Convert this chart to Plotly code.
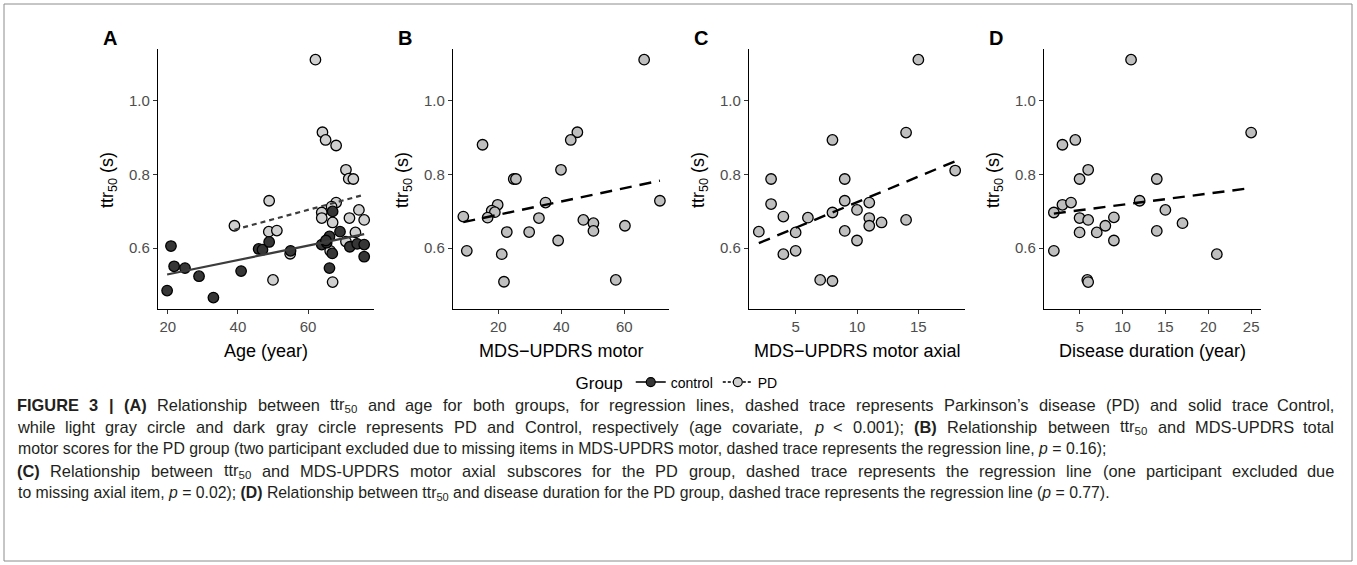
import re
import plotly.graph_objects as go

# ---------------- data ----------------
# Panel A: age vs ttr50, two groups
a_pd_age = [62.1, 64.1, 65.0, 68.0, 70.8, 71.6, 72.9, 48.9, 39.0, 48.8, 51.1, 68.0, 66.7,
            63.9, 63.9, 67.0, 71.8, 70.8, 54.9, 66.3, 50.0, 67.0, 74.5, 76.0, 73.5]
a_pd_ttr = [1.112, 0.915, 0.894, 0.879, 0.813, 0.789, 0.788, 0.729, 0.661, 0.645, 0.648, 0.724, 0.713,
            0.697, 0.682, 0.670, 0.682, 0.618, 0.585, 0.593, 0.514, 0.508, 0.704, 0.677, 0.643]
a_ctrl_age = [20.9, 21.8, 24.9, 28.9, 19.8, 33.0, 40.9, 45.9, 47.0, 48.9, 55.0, 63.9, 65.3, 66.9,
              66.1, 67.0, 66.1, 69.1, 71.9, 65.1, 74.0, 76.0, 76.0]
a_ctrl_ttr = [0.606, 0.551, 0.546, 0.524, 0.485, 0.466, 0.538, 0.598, 0.596, 0.617, 0.593, 0.610, 0.615, 0.586,
              0.546, 0.700, 0.632, 0.645, 0.604, 0.621, 0.612, 0.610, 0.577]

# Panel B: MDS-UPDRS motor
b_motor = [66.3, 15.0, 45.1, 43.0, 39.9, 24.9, 25.6, 8.9, 10.0, 19.8, 17.9, 18.9, 16.6,
           22.7, 21.1, 21.8, 29.8, 32.9, 35.0, 39.0, 47.0, 50.2, 50.2, 60.2, 57.3, 71.3]
b_ttr = [1.112, 0.881, 0.915, 0.894, 0.813, 0.788, 0.788, 0.686, 0.593, 0.718, 0.702, 0.698, 0.683,
         0.644, 0.584, 0.509, 0.644, 0.682, 0.724, 0.621, 0.677, 0.668, 0.647, 0.661, 0.514, 0.729]

# Panel C: MDS-UPDRS motor axial
c_axial = [15, 14, 18, 14, 8, 9, 9, 8, 9, 10, 10, 11, 11, 11, 12, 3, 3, 2, 4, 4, 5, 5, 6, 7, 8]
c_ttr = [1.112, 0.914, 0.811, 0.677, 0.894, 0.788, 0.729, 0.697, 0.647, 0.704, 0.621, 0.724, 0.682,
         0.661, 0.670, 0.788, 0.720, 0.645, 0.686, 0.584, 0.643, 0.593, 0.683, 0.514, 0.511]

# Panel D: disease duration
d_dur = [11, 25, 3, 4.5, 6, 5, 2, 3, 4, 5, 6, 5, 7, 8, 9, 9, 12, 14, 14, 15, 17, 21, 2, 5.9, 6.0]
d_ttr = [1.112, 0.914, 0.881, 0.894, 0.813, 0.788, 0.697, 0.718, 0.724, 0.682, 0.677, 0.643, 0.643,
         0.661, 0.684, 0.621, 0.729, 0.788, 0.647, 0.704, 0.668, 0.584, 0.593, 0.514, 0.508]

# regression lines: (intercept, slope)
fit_a_ctrl = (0.490, 0.00195)
fit_a_pd = (0.550, 0.00257)
fit_b = (0.655, 0.0018)
fit_c = (0.586, 0.0139)
fit_d = (0.688, 0.00302)

panel_letters = ["A", "B", "C", "D"]
x_titles = ["Age (year)", "MDS\u2212UPDRS motor", "MDS\u2212UPDRS motor axial", "Disease duration (year)"]
x_tickvals = [[20, 40, 60], [20, 40, 60], [5, 10, 15], [5, 10, 15, 20, 25]]
x_ranges = [[17.2, 78.8], [5.62, 74.19], [1.2, 18.8], [0.85, 26.15]]
y_tickvals = [0.6, 0.8, 1.0]
y_range = [0.435, 1.141]

# caption lines; True = justified line (full width), False = last line of a block
caption_lines = [
    ("<b>FIGURE</b> <b>3</b> <b>|</b> <b>(A)</b> Relationship between ttr<sub>50</sub> and age for both groups, for regression lines, dashed trace represents Parkinson\u2019s disease (PD) and solid trace Control,", True),
    ("while light gray circle and dark gray circle represents PD and Control, respectively (age covariate, <i>p</i> &lt; 0.001); <b>(B)</b> Relationship between ttr<sub>50</sub> and MDS-UPDRS total", True),
    ("motor scores for the PD group (two participant excluded due to missing items in MDS-UPDRS motor, dashed trace represents the regression line, <i>p</i> = 0.16);", False),
    ("<b>(C)</b> Relationship between ttr<sub>50</sub> and MDS-UPDRS motor axial subscores for the PD group, dashed trace represents the regression line (one participant excluded due", True),
    ("to missing axial item, <i>p</i> = 0.02); <b>(D)</b> Relationship between ttr<sub>50</sub> and disease duration for the PD group, dashed trace represents the regression line (<i>p</i> = 0.77).", False),
]

# ---------------- layout geometry (pixels) ----------------
W, H = 1357, 565
def px(x):
    return x / W
def py(y):
    return 1 - y / H

x_px = [(158, 374), (453, 669), (749, 965), (1044, 1261)]
y_px = (49, 309)

FONT = "Liberation Sans, Arial, Helvetica, sans-serif"
DARK = "#363636"
LIGHT_A = "#d0d0d0"
LIGHT = "#bfbfbf"
CAP_SIZE = 15.8       # ragged (last) lines
CAP_SIZE_J = 16.4     # justified lines (typesetter glyph scaling)
CAP_LEFT, CAP_RIGHT = 16, 1335

# Helvetica/Arial advance widths (1/1000 em), used only to justify caption words
REG = {' ': 278, '(': 333, ')': 333, ',': 278, '-': 333, '.': 278, ';': 278, '<': 584, '=': 584,
       '|': 260, '\u2019': 222, ':': 278,
       'A': 667, 'B': 667, 'C': 722, 'D': 722, 'E': 667, 'F': 611, 'G': 778, 'H': 722, 'I': 278,
       'J': 500, 'K': 667, 'L': 556, 'M': 833, 'N': 722, 'O': 778, 'P': 667, 'Q': 778, 'R': 722,
       'S': 667, 'T': 611, 'U': 722, 'V': 667, 'W': 944, 'X': 667, 'Y': 667, 'Z': 611,
       'a': 556, 'b': 556, 'c': 500, 'd': 556, 'e': 556, 'f': 278, 'g': 556, 'h': 556, 'i': 222,
       'j': 222, 'k': 500, 'l': 222, 'm': 833, 'n': 556, 'o': 556, 'p': 556, 'q': 556, 'r': 333,
       's': 500, 't': 278, 'u': 556, 'v': 500, 'w': 722, 'x': 500, 'y': 500, 'z': 500}
BOLD = {'(': 333, ')': 333, '|': 280, 'A': 722, 'B': 722, 'C': 722, 'D': 722, 'E': 667, 'F': 611,
        'G': 778, 'I': 278, 'R': 722, 'U': 722}

def tok_width(tok, size):
    bold = "<b>" in tok
    w = 0.0
    in_sub = False
    for part in re.split(r"(<[^>]+>)", tok):
        if part.startswith("<"):
            if part == "<sub>":
                in_sub = True
            elif part == "</sub>":
                in_sub = False
            continue
        part = part.replace("&lt;", "<")
        for ch in part:
            cw = BOLD.get(ch, REG.get(ch, 556)) if bold else REG.get(ch, 556)
            w += cw / 1000.0 * size * (0.7 if in_sub else 1.0)
    return w

fig = go.Figure()

def ax(i):
    return ("x" if i == 0 else f"x{i+1}"), ("y" if i == 0 else f"y{i+1}")

def line_xy(xs, fit):
    lo, hi = min(xs), max(xs)
    return [lo, hi], [fit[0] + fit[1] * lo, fit[0] + fit[1] * hi]

mk_pd_a = dict(size=10.5, color=LIGHT_A, line=dict(color="black", width=1.3))
mk_pd = dict(size=10.5, color=LIGHT, line=dict(color="black", width=1.3))
mk_ctrl = dict(size=10.5, color=DARK, line=dict(color="black", width=1.3))

# Panel A
xa, ya = ax(0)
fig.add_trace(go.Scatter(x=a_pd_age, y=a_pd_ttr, mode="markers", marker=mk_pd_a,
                         xaxis=xa, yaxis=ya, showlegend=False, hoverinfo="skip"))
fig.add_trace(go.Scatter(x=a_ctrl_age, y=a_ctrl_ttr, mode="markers", marker=mk_ctrl,
                         xaxis=xa, yaxis=ya, showlegend=False, hoverinfo="skip"))
lx, ly = line_xy(a_ctrl_age, fit_a_ctrl)
fig.add_trace(go.Scatter(x=lx, y=ly, mode="lines", line=dict(color="#3c3c3c", width=2.2),
                         xaxis=xa, yaxis=ya, showlegend=False, hoverinfo="skip"))
lx, ly = line_xy(a_pd_age, fit_a_pd)
fig.add_trace(go.Scatter(x=lx, y=ly, mode="lines", line=dict(color="#3c3c3c", width=2.2, dash="5px,4px"),
                         xaxis=xa, yaxis=ya, showlegend=False, hoverinfo="skip"))

# Panels B-D
for i, (xs, ys, fit) in enumerate([(b_motor, b_ttr, fit_b), (c_axial, c_ttr, fit_c), (d_dur, d_ttr, fit_d)], start=1):
    xa, ya = ax(i)
    fig.add_trace(go.Scatter(x=xs, y=ys, mode="markers", marker=mk_pd,
                             xaxis=xa, yaxis=ya, showlegend=False, hoverinfo="skip"))
    lx, ly = line_xy(xs, fit)
    fig.add_trace(go.Scatter(x=lx, y=ly, mode="lines", line=dict(color="black", width=2.4, dash="12px,8px"),
                             xaxis=xa, yaxis=ya, showlegend=False, hoverinfo="skip"))

# legend-only traces
fig.add_trace(go.Scatter(x=[None], y=[None], mode="lines+markers", name="control",
                         marker=dict(size=9, color=DARK, line=dict(color="black", width=1.2)),
                         line=dict(color="#3c3c3c", width=2)))
fig.add_trace(go.Scatter(x=[None], y=[None], mode="lines+markers", name="PD",
                         marker=dict(size=9, color=LIGHT_A, line=dict(color="black", width=1.2)),
                         line=dict(color="#3c3c3c", width=2, dash="3px,2px")))

layout = dict(
    width=W, height=H,
    margin=dict(l=0, r=0, t=0, b=0),
    paper_bgcolor="white", plot_bgcolor="white",
    font=dict(family=FONT, color="black"),
    showlegend=True,
    legend=dict(orientation="h", x=px(678), xanchor="center", y=py(383), yanchor="middle",
                title=dict(text="Group", font=dict(size=17, family=FONT, color="black"), side="left"),
                font=dict(size=14, family=FONT, color="black"), itemwidth=30,
                bgcolor="rgba(0,0,0,0)"),
)

annotations = []
for i in range(4):
    xk = "xaxis" if i == 0 else f"xaxis{i+1}"
    yk = "yaxis" if i == 0 else f"yaxis{i+1}"
    xn, yn = ax(i)
    x0, x1 = x_px[i]
    layout[xk] = dict(domain=[px(x0), px(x1)], anchor=yn, range=x_ranges[i], tickvals=x_tickvals[i],
                      showline=True, linecolor="black", linewidth=1.2, ticks="outside", ticklen=4,
                      tickcolor="#333333", tickwidth=1.1, tickfont=dict(size=15, color="#4d4d4d", family=FONT),
                      showgrid=False, zeroline=False, fixedrange=True)
    layout[yk] = dict(domain=[py(y_px[1]), py(y_px[0])], anchor=xn, range=y_range, tickvals=y_tickvals,
                      tickformat=".1f", showline=True, linecolor="black", linewidth=1.2, ticks="outside",
                      ticklen=4, tickcolor="#333333", tickwidth=1.1,
                      tickfont=dict(size=15, color="#4d4d4d", family=FONT),
                      showgrid=False, zeroline=False, fixedrange=True)
    annotations.append(dict(text=f"<b>{panel_letters[i]}</b>", x=px(x0 - 57), y=py(38), xref="paper", yref="paper",
                            xanchor="left", yanchor="middle", showarrow=False,
                            font=dict(size=20, family=FONT, color="black")))
    annotations.append(dict(text="ttr<sub>50</sub> (s)", x=px(x0 - 50), y=py(180), xref="paper", yref="paper",
                            xanchor="center", yanchor="middle", textangle=-90, showarrow=False,
                            font=dict(size=18, family=FONT, color="black")))
    annotations.append(dict(text=x_titles[i], x=px((x0 + x1) / 2), y=py(351), xref="paper", yref="paper",
                            xanchor="center", yanchor="middle", showarrow=False,
                            font=dict(size=18, family=FONT, color="black")))

for j, (line, justified) in enumerate(caption_lines):
    ypos = py(405 + 22 * j)
    if not justified:
        annotations.append(dict(text=line, x=px(CAP_LEFT), y=ypos, xref="paper", yref="paper",
                                xanchor="left", yanchor="middle", showarrow=False,
                                font=dict(size=CAP_SIZE, family=FONT, color="#231f20")))
        continue
    jfont = dict(size=CAP_SIZE_J, family=FONT, color="#231f20")
    words = line.split(" ")
    widths = [tok_width(w, CAP_SIZE_J) for w in words]
    gap = (CAP_RIGHT - CAP_LEFT - sum(widths)) / (len(words) - 1)
    xcur = CAP_LEFT
    for k, (w, wd) in enumerate(zip(words, widths)):
        last = k == len(words) - 1
        annotations.append(dict(text=w, x=px(CAP_RIGHT if last else xcur), y=ypos, xref="paper", yref="paper",
                                xanchor="right" if last else "left", yanchor="middle", showarrow=False,
                                font=jfont, borderpad=0))
        xcur += wd + gap

layout["annotations"] = annotations
layout["shapes"] = [dict(type="rect", xref="paper", yref="paper", x0=px(4), x1=px(1352), y0=py(561), y1=py(4),
                         line=dict(color="#8c8c8c", width=1), fillcolor="rgba(0,0,0,0)", layer="below")]

fig.update_layout(**layout)
fig.write_html("out.html", config={"displayModeBar": False},
               post_script="document.body.style.margin='0px'; document.body.style.overflow='hidden';")
